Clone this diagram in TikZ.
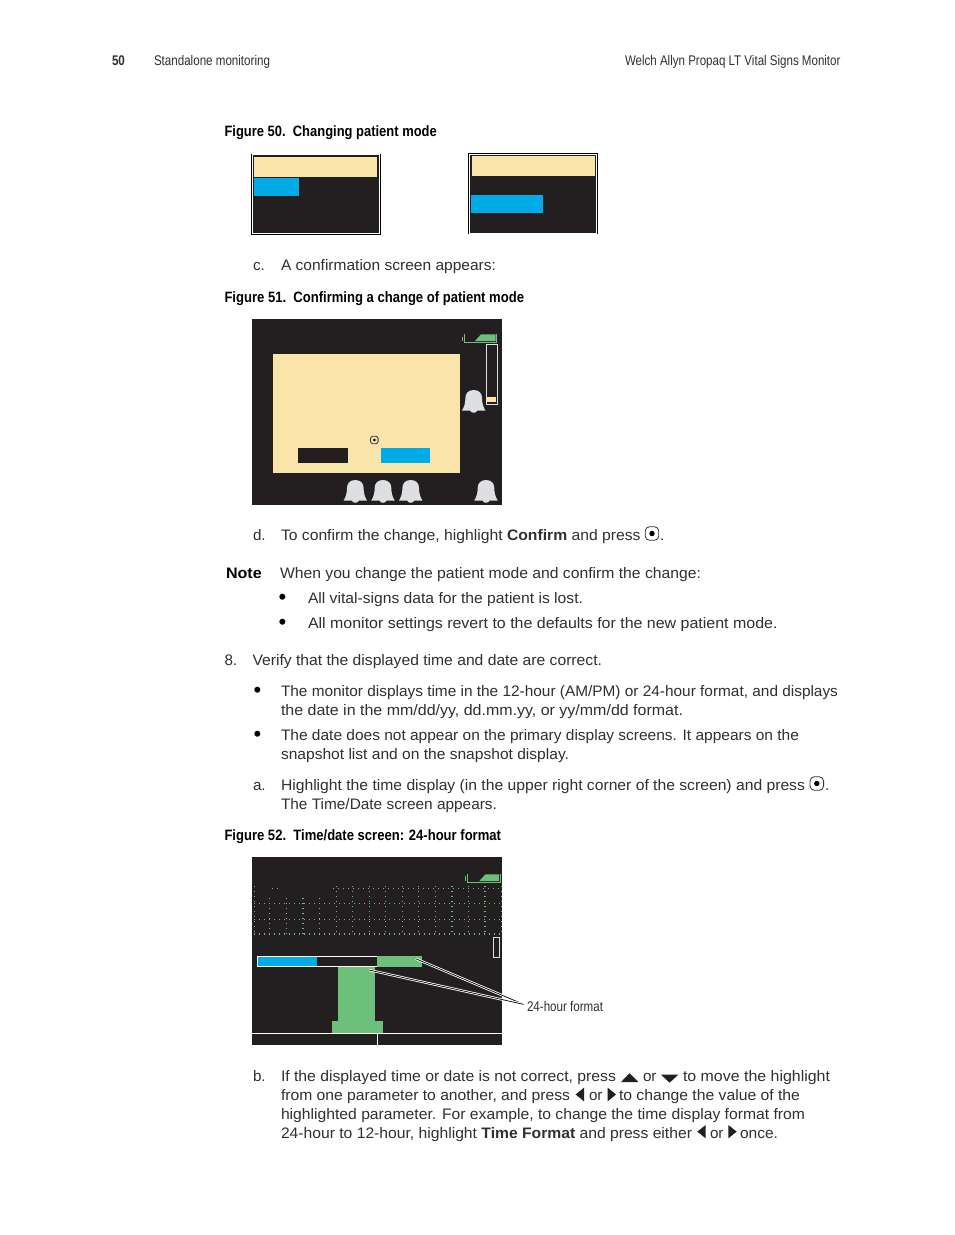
\documentclass[tikz,border=0pt]{standalone}
\usepackage{graphicx}
\usepackage{fontspec}
\setmainfont{Liberation Sans}
\newfontfamily\condf[FakeStretch=0.83]{Liberation Sans}
\newfontfamily\condb[FakeStretch=0.82]{Liberation Sans}
\newcommand\fw[2]{\resizebox{#1pt}{\height}{#2}}
\definecolor{scr}{HTML}{231F20}
\definecolor{crm}{HTML}{F9E4A9}
\definecolor{blu}{HTML}{00ABE8}
\definecolor{grn}{HTML}{6CC07A}
\definecolor{bel}{HTML}{DDDFE2}
\definecolor{ink}{HTML}{303030}
\tikzset{
  body/.style={anchor=base west,inner sep=0pt,outer sep=0pt,text=ink,font=\fontsize{15.2}{18}\selectfont},
  bul/.style={anchor=base west,inner sep=0pt,outer sep=0pt,text=black,font=\fontsize{22}{22}\selectfont},
  head/.style={anchor=base west,inner sep=0pt,outer sep=0pt,text=ink,font=\condf\fontsize{14}{16}\selectfont},
  fig/.style={anchor=base west,inner sep=0pt,outer sep=0pt,text=black,font=\condb\bfseries\fontsize{15}{17}\selectfont},
  dotg/.style={draw=grn,line width=1.1pt,dash pattern=on 1.1pt off 3.9pt},
  callout/.style={draw=black,line width=.7pt,preaction={draw=white,line width=2.4pt}},
  pics/bell/.style={code={
    \fill[bel] (0,0) .. controls (-5.5,0) and (-8.3,3.5) .. (-8.3,8)
      .. controls (-8.3,13) and (-9.5,17) .. (-11.7,20.5) -- (-3.5,20.5)
      .. controls (-3,23.5) and (3,23.5) .. (3.5,20.5) -- (11.7,20.5)
      .. controls (9.5,17) and (8.3,13) .. (8.3,8) .. controls (8.3,3.5) and (5.5,0) .. (0,0) -- cycle;
  }},
  pics/okkey/.style={code={
    \draw[ink,line width=.8pt,rounded corners=#1*.65pt] (-#1,-#1) rectangle (#1,#1);
    \fill[black] (0,0) circle ({#1*.4});
  }}
}
\begin{document}
\begin{tikzpicture}[x=1pt,y=-1pt]
\useasboundingbox[fill=white] (0,0) rectangle (954,1235);

% running header
\node[head,font=\condf\bfseries\fontsize{14}{16}\selectfont] (pg) at (112,65) {50};
\node[head] (sec) at (154,65) {\fw{116}{Standalone monitoring}};
\node[head,anchor=base east] (man) at (840.5,65) {\fw{215.5}{Welch Allyn Propaq LT Vital Signs Monitor}};

% Figure 50
\node[fig] (f50) at (224.5,136) {\fw{212.3}{Figure 50.\ \ Changing patient mode}};
\draw[black,line width=.8pt] (251.3,154) -- (251.3,234) -- (380.4,234) -- (380.4,154);
\fill[scr] (252.7,155) rectangle (379,233);
\fill[crm] (254,157) rectangle (377,177);
\fill[blu] (254,178) rectangle (299,196);

\draw[black,line width=.8pt] (468.6,234) -- (468.6,153.6) -- (597.4,153.6) -- (597.4,234);
\fill[scr] (470,155) rectangle (596,233);
\fill[crm] (471.7,156) rectangle (595,176);
\fill[blu] (471,195) rectangle (543,213);

\node[body] (c1) at (253,270) {c.};
\node[body] (c2) at (281,270) {\fw{215}{A confirmation screen appears:}};

% Figure 51
\node[fig] (f51) at (224.5,302) {\fw{299.5}{Figure 51.\ \ Confirming a change of patient mode}};
\fill[scr] (252.3,319) rectangle (502,505);
\fill[crm] (273,354) rectangle (460,473);
\fill[scr] (298,448) rectangle (348,463);
\fill[blu] (381,448) rectangle (430,463);
\pic at (374.3,440) {okkey=3.8};
\pic at (473.7,390) {bell};
\pic at (355.3,480) {bell};
\pic at (383,480) {bell};
\pic at (410.7,480) {bell};
\pic at (486,480) {bell};
\draw[bel,line width=.8pt] (486.6,344.6) rectangle (497.4,404);
\fill[crm] (487.3,397) rectangle (496,402);
\draw[grn,line width=1pt] (464.3,333.5) -- (464.3,342.3) -- (496.5,342.3) -- (496.5,333.5);
\draw[grn,line width=1pt] (462.8,336.5) -- (462.8,340.5);
\fill[grn] (475,341) -- (481,334.3) -- (495.5,334.3) -- (495.5,341) -- cycle;

\node[body] (d1) at (253,540) {d.};
\node[body] (d2) at (281,540) {\fw{359.5}{To confirm the change, highlight \textbf{Confirm} and press}};
\pic at (652,533.5) {okkey=6.8};
\node[body] (d3) at (660,540) {.};

\node[body,font=\bfseries\fontsize{15.2}{18}\selectfont,text=black] (n0) at (226,578) {\fw{35.7}{Note}};
\node[body] (n1) at (280,578) {\fw{421}{When you change the patient mode and confirm the change:}};
\node[bul] (n2b) at (278.5,604) {•};
\node[body] (n2) at (308,603) {\fw{275}{All vital-signs data for the patient is lost.}};
\node[bul] (n3b) at (278.5,629) {•};
\node[body] (n3) at (308,628) {\fw{469.5}{All monitor settings revert to the defaults for the new patient mode.}};

\node[body] (s8) at (224.5,665) {8.};
\node[body] (s8t) at (252.5,665) {\fw{349.5}{Verify that the displayed time and date are correct.}};
\node[bul] (b1) at (253.5,697) {•};
\node[body] (b1a) at (281,696) {\fw{557}{The monitor displays time in the 12-hour (AM/PM) or 24-hour format, and displays}};
\node[body] (b1b) at (281,715) {\fw{402}{the date in the mm/dd/yy, dd.mm.yy, or yy/mm/dd format.}};
\node[bul] (b2) at (253.5,741) {•};
\node[body] (b2a) at (281,740) {\fw{518}{The date does not appear on the primary display screens. It appears on the}};
\node[body] (b2b) at (281,759) {\fw{288}{snapshot list and on the snapshot display.}};
\node[body] (a1) at (253,790) {a.};
\node[body] (a2) at (281,790) {\fw{524}{Highlight the time display (in the upper right corner of the screen) and press}};
\pic at (816.8,783.5) {okkey=6.8};
\node[body] (a3) at (825,790) {.};
\node[body] (a4) at (281,809) {\fw{216}{The Time/Date screen appears.}};

% Figure 52
\node[fig] (f52) at (224.5,840) {\fw{276.5}{Figure 52.\ \ Time/date screen: 24-hour format}};
\fill[scr] (252,857) rectangle (502,1045);
\foreach \gy in {903.3,919.3,934} \draw[dotg] (254,\gy) -- (502,\gy);
\draw[dotg] (333,888.3) -- (502,888.3);
\draw[dotg] (272,888.3) -- (278,888.3);
\foreach \gx in {254.3,336.3,352.3,369.3,385.3,402.3,418.3,435.3,452,468.3,485,501.3} \draw[dotg] (\gx,886) -- (\gx,934);
\foreach \gx in {269.3,286.3,303,319.3} \draw[dotg] (\gx,898) -- (\gx,934);
\draw[grn,line width=1pt] (467.3,873.5) -- (467.3,882.3) -- (500,882.3) -- (500,873.5);
\draw[grn,line width=1pt] (465.8,875.5) -- (465.8,880.5);
\fill[grn] (479.3,881) -- (485.5,874.3) -- (499,874.3) -- (499,881) -- cycle;
\fill[scr] (492,936) rectangle (501,959);
\draw[bel,line width=.8pt] (493.6,937.6) rectangle (499.4,957.4);
\draw[white,line width=.8pt] (257.6,956.6) rectangle (377,966.6);
\fill[blu] (258,957.3) rectangle (317,966.2);
\fill[grn] (377,956) rectangle (422,967);
\fill[grn] (338,966.6) rectangle (375,1021);
\fill[grn] (332,1021) rectangle (383,1033);
\draw[white,line width=.8pt] (252,1033.7) -- (502,1033.7);
\draw[white,line width=.8pt] (377.3,1033.7) -- (377.3,1045);

\node[head] (fmt) at (527,1011) {\fw{76}{24-hour format}};
\coordinate (fmtp) at (523.5,1004.3);
\coordinate (t1) at (415.7,958.7);
\coordinate (t2) at (369,970);
\draw[callout] (fmtp) -- (t1);
\draw[callout] (fmtp) -- (t2);

% step b
\node[body] (e0) at (253,1081) {b.};
\node[body] (e1) at (281,1081) {\fw{335}{If the displayed time or date is not correct, press}};
\fill[scr] (621,1082) -- (638.3,1082) -- (629.6,1073.3) -- cycle;
\node[body] (e2) at (643,1081) {or};
\fill[scr] (661,1074.7) -- (678.3,1074.7) -- (669.6,1082.7) -- cycle;
\node[body] (e3) at (683,1081) {\fw{147}{to move the highlight}};
\node[body] (g1) at (281,1100) {\fw{289}{from one parameter to another, and press}};
\fill[scr] (584,1087.7) -- (584,1101.3) -- (575.7,1094.5) -- cycle;
\node[body] (g2) at (589,1100) {or};
\fill[scr] (607.7,1087.7) -- (607.7,1101.3) -- (616,1094.5) -- cycle;
\node[body] (g3) at (619,1100) {\fw{181}{to change the value of the}};
\node[body] (h1) at (281,1119) {\fw{524}{highlighted parameter. For example, to change the time display format from}};
\node[body] (i1) at (281,1138) {\fw{411}{24-hour to 12-hour, highlight \textbf{Time Format} and press either}};
\fill[scr] (705.7,1125) -- (705.7,1138.3) -- (697.3,1131.6) -- cycle;
\node[body] (i2) at (710,1138) {or};
\fill[scr] (728.3,1125) -- (728.3,1138.3) -- (736.7,1131.6) -- cycle;
\node[body] (i3) at (740,1138) {\fw{38}{once.}};
\end{tikzpicture}
\end{document}
